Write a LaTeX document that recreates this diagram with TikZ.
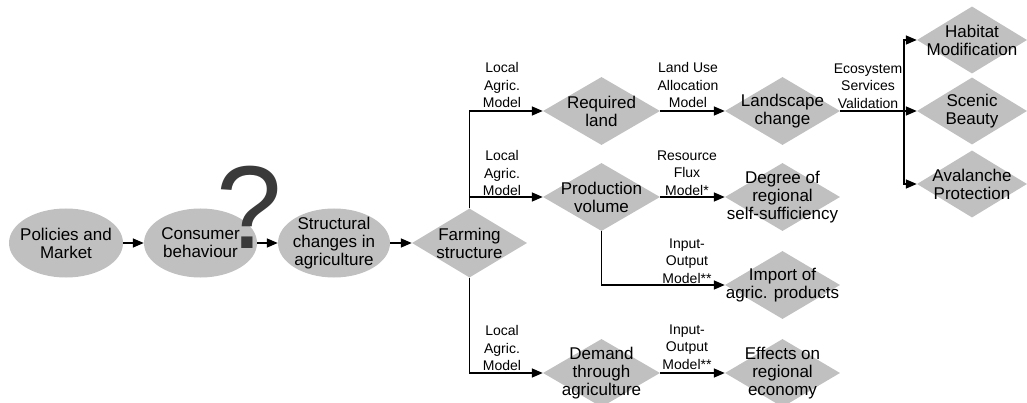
\documentclass[tikz,border=0pt]{standalone}
\usepackage{fontspec}
\setmainfont{Liberation Sans}
\usetikzlibrary{shapes.geometric,arrows.meta}
\definecolor{shapegray}{RGB}{192,192,192}
\definecolor{qgray}{RGB}{58,58,58}
\begin{document}
\begin{tikzpicture}[x=1pt,y=-1pt,
  ell/.style={ellipse, fill=shapegray, draw=none, minimum width=114pt, minimum height=69pt, inner sep=0pt},
  dia/.style={diamond, fill=shapegray, draw=none, inner sep=0pt, minimum width=116pt, minimum height=68pt},
  ntext/.style={align=center, font=\fontsize{17}{18}\selectfont, inner sep=0pt},
  ltext/.style={align=center, font=\fontsize{14}{17.5}\selectfont, inner sep=0pt},
  conn/.style={line width=1.4pt, draw=black},
  arr/.style={conn, -{Triangle[length=11pt,width=9pt]}},
]
\useasboundingbox[fill=white] (0,0) rectangle (1027,403);

% ellipses
\node[ell] (pm) at (66,243) {};
\node[ntext] (pmt) at (pm) {Policies and\\Market};
\node[ell, minimum width=113pt] (cb) at (200.5,243) {};
\node[ntext] (cbt) at (cb) {Consumer\\behaviour};
\node[ell, minimum width=112pt] (st) at (334,243) {};
\node[ntext] (stt) at (st) {Structural\\changes in\\agriculture};
\node[font=\fontsize{118}{118}\selectfont, text=qgray, inner sep=0pt, anchor=base] (qm) at (249.5,248) {?};

% diamonds
\node[dia, minimum width=115pt, minimum height=69pt] (fs) at (469.5,243) {};
\node[ntext] (fst) at (fs) {Farming\\structure};

\node[dia, minimum width=117pt] (rl) at (601.5,111) {};
\node[ntext] (rlt) at (rl) {Required\\land};
\node[dia, minimum width=117pt] (pv) at (601.5,197) {};
\node[ntext] (pvt) at (pv) {Production\\volume};
\node[dia, minimum width=117pt] (dt) at (601.5,373) {};
\node[ntext] (dtt) at (dt) {Demand\\through\\agriculture};

\node[dia, minimum width=115pt] (lc) at (782.5,111) {};
\node[ntext] (lct) at (lc) {Landscape\\change};
\node[dia, minimum width=115pt] (ds) at (782.5,197) {};
\node[ntext] (dst) at (ds) {Degree of\\regional\\self-sufficiency};
\node[dia, minimum width=115pt] (ip) at (782.5,285) {};
\node[ntext] (ipt) at (ip) {Import of\\agric. products};
\node[dia, minimum width=115pt] (ee) at (782.5,373) {};
\node[ntext] (eet) at (ee) {Effects on\\regional\\economy};

\node[dia, minimum width=110pt, minimum height=67pt] (hm) at (972,40) {};
\node[ntext] (hmt) at (hm) {Habitat\\Modification};
\node[dia, minimum width=110pt, minimum height=67pt] (sb) at (972,111) {};
\node[ntext] (sbt) at (sb) {Scenic\\Beauty};
\node[dia, minimum width=110pt, minimum height=67pt] (ap) at (972,184) {};
\node[ntext] (apt) at (ap) {Avalanche\\Protection};

% connectors
\draw[arr] (pm.east) -- (cb.west);
\draw[arr] (cb.east) -- (st.west);
\draw[arr] (st.east) -- (fs.west);
\draw[arr] (fs.north) |- (rl.west);
\draw[arr] (fs.north |- pv.west) -- (pv.west);
\draw[arr] (fs.south) |- (dt.west);
\draw[arr] (rl.east) -- (lc.west);
\draw[arr] (pv.east) -- (ds.west);
\draw[arr] (pv.south) |- (ip.west);
\draw[arr] (dt.east) -- (ee.west);
\coordinate (br) at (904,111);
\draw[conn] (lc.east) -- (br);
\draw[arr] (br) |- (hm.west);
\draw[arr] (br) -- (sb.west);
\draw[arr] (br) |- (ap.west);

% labels
\node[ltext] (l1) at (502,85) {Local\\Agric.\\Model};
\node[ltext] (l2) at (502,173) {Local\\Agric.\\Model};
\node[ltext] (l3) at (502,348) {Local\\Agric.\\Model};
\node[ltext] (m1) at (688,85) {Land Use\\Allocation\\Model};
\node[ltext] (m2) at (687,173) {Resource\\Flux\\Model*};
\node[ltext] (m3) at (687,261) {Input-\\Output\\Model**};
\node[ltext] (m4) at (687,347) {Input-\\Output\\Model**};
\node[ltext] (e1) at (868,86) {Ecosystem\\Services\\Validation};
\end{tikzpicture}
\end{document}
